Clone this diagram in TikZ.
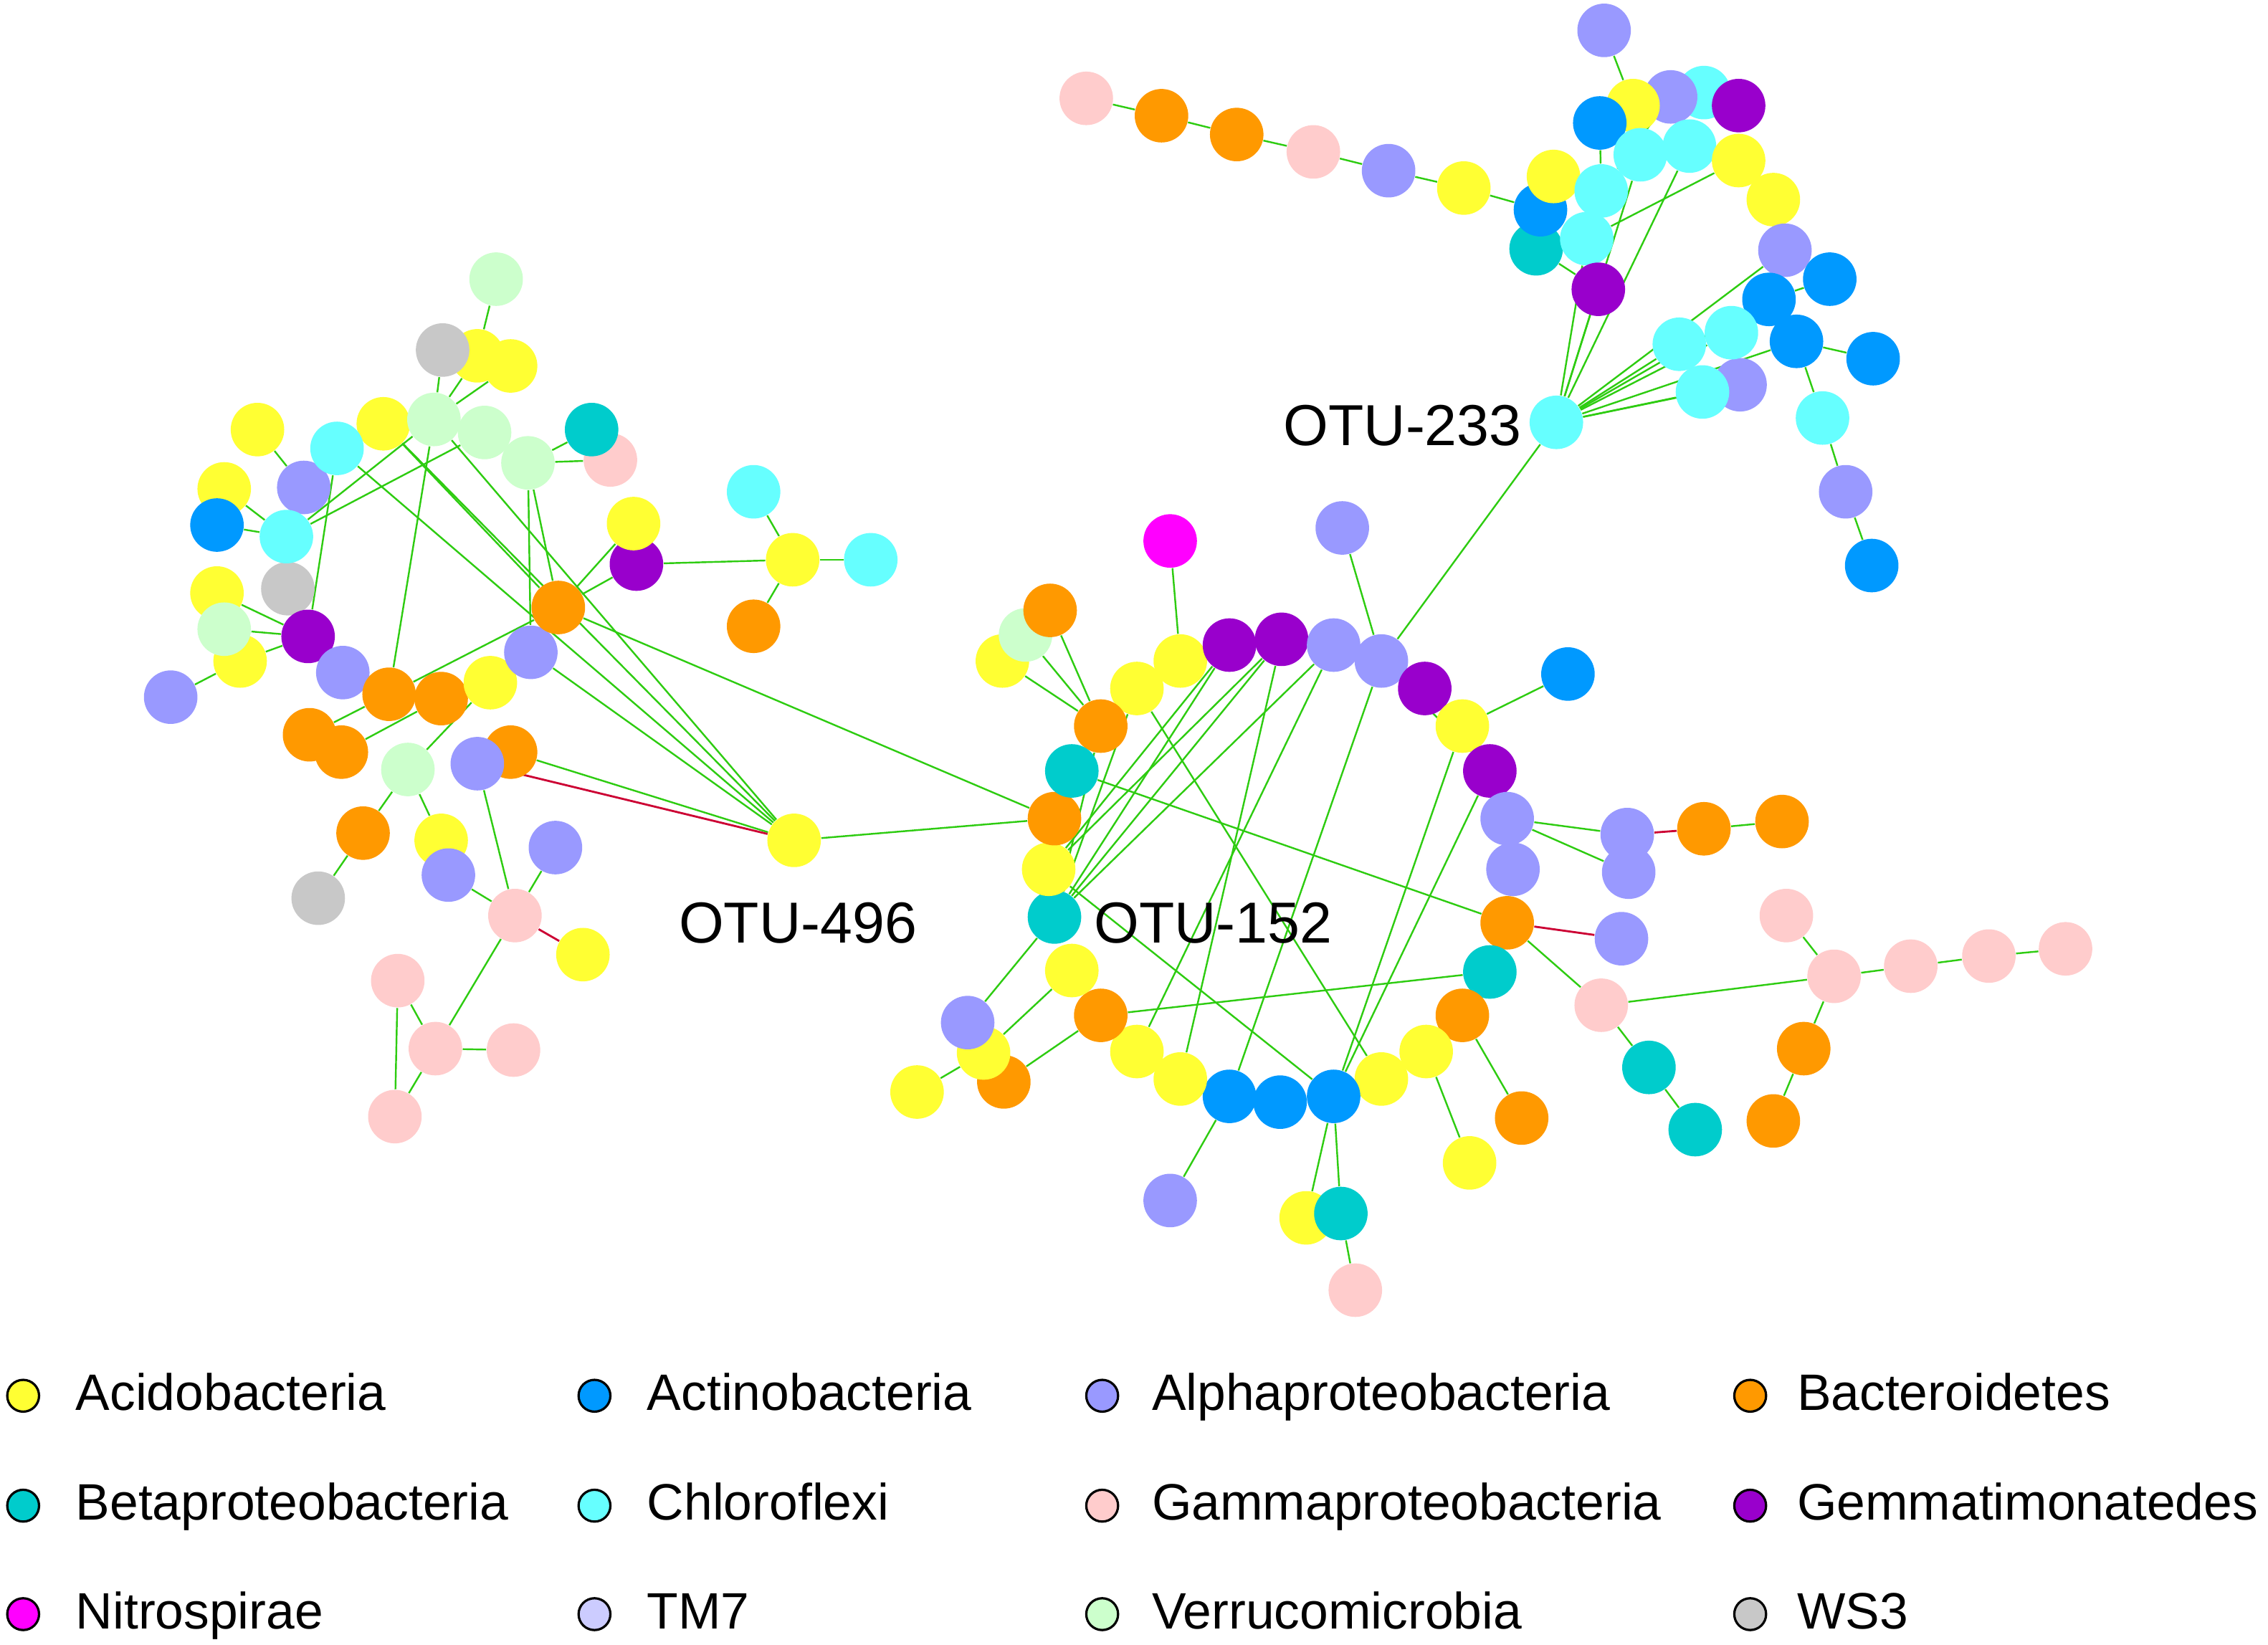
\documentclass[tikz,border=0pt]{standalone}
\usepackage{fontspec}
\setmainfont{Liberation Sans}
\pgfdeclarelayer{bg}
\pgfdeclarelayer{edges}
\pgfsetlayers{bg,edges,main}
\definecolor{acid}{HTML}{FFFF33}
\definecolor{actino}{HTML}{0099FF}
\definecolor{alpha}{HTML}{9999FF}
\definecolor{bact}{HTML}{FF9900}
\definecolor{beta}{HTML}{00CCCC}
\definecolor{chloro}{HTML}{66FFFF}
\definecolor{gamma}{HTML}{FFCCCC}
\definecolor{gemma}{HTML}{9900CC}
\definecolor{nitro}{HTML}{FF00FF}
\definecolor{tmseven}{HTML}{CCCCFF}
\definecolor{verru}{HTML}{CCFFCC}
\definecolor{wsthree}{HTML}{C8C8C8}
\definecolor{egreen}{HTML}{2ECC11}
\definecolor{ered}{HTML}{CC0033}
\tikzset{
  nd/.style={circle,fill=#1,draw=none,inner sep=0pt,minimum size=18.5pt},
  ge/.style={draw=egreen,line width=0.6pt},
  re/.style={draw=ered,line width=0.7pt},
  lbl/.style={font=\fontsize{20}{24}\selectfont,inner sep=0pt,anchor=base west},
  lg/.style={font=\fontsize{17.7}{22}\selectfont,inner sep=0pt,anchor=base west},
  mk/.style={circle,fill=#1,draw=black,line width=0.8pt,inner sep=0pt,minimum size=11pt},
}
\begin{document}
\begin{tikzpicture}[x=0.5pt,y=-0.5pt]
\begin{pgfonlayer}{bg}
\fill[white] (0,0) rectangle (1568,1137.3);
\end{pgfonlayer}
\path[use as bounding box] (0,0) rectangle (1568,1137.3);

% ---------- left cluster ----------
\node[nd=verru] (L1) at (343,193) {};
\node[nd=acid] (L3) at (330,246) {};
\node[nd=acid] (L4) at (353,253) {};
\node[nd=wsthree] (L2) at (306,242) {};
\node[nd=acid] (L5) at (178,297) {};
\node[nd=acid] (L6) at (265,293) {};
\node[nd=verru] (L8) at (335,299) {};
\node[nd=verru] (L7) at (300,290) {};
\node[nd=verru] (L12) at (365,320) {};
\node[nd=gamma] (L11) at (422,318) {};
\node[nd=beta] (L10) at (409,297) {};
\node[nd=alpha] (L13) at (210,337) {};
\node[nd=chloro] (L9) at (233,310) {};
\node[nd=acid] (L14) at (155,338) {};
\node[nd=actino] (L15) at (150,363) {};
\node[nd=wsthree] (L18) at (199,407) {};
\node[nd=chloro] (L16) at (198,371) {};
\node[nd=gemma] (L23) at (440,390) {};
\node[nd=acid] (L17) at (438,362) {};
\node[nd=acid] (L19) at (150,410) {};
\node[nd=acid] (L21) at (166,457) {};
\node[nd=verru] (L20) at (155,435) {};
\node[nd=gemma] (L22) at (213,440) {};
\node[nd=alpha] (L27) at (118,482) {};
\node[nd=alpha] (L26) at (237,465) {};
\node[nd=bact] (L28) at (269,480) {};
\node[nd=bact] (L29) at (305,483) {};
\node[nd=acid] (L30) at (339,472) {};
\node[nd=alpha] (L25) at (367,451) {};
\node[nd=bact] (L24) at (386,420) {};
\node[nd=bact] (L31) at (214,508) {};
\node[nd=bact] (L32) at (236,520) {};
\node[nd=verru] (L33) at (282,532) {};
\node[nd=bact] (L35) at (353,520) {};
\node[nd=alpha] (L34) at (330,528) {};
\node[nd=bact] (L36) at (251,576) {};
\node[nd=acid] (L37) at (305,581) {};
\node[nd=alpha] (L38) at (310,605) {};
\node[nd=alpha] (L39) at (384,586) {};
\node[nd=wsthree] (L40) at (220,621) {};
\node[nd=gamma] (L41) at (356,633) {};
\node[nd=acid] (L42) at (403,660) {};
\node[nd=gamma] (L43) at (275,678) {};
\node[nd=gamma] (L44) at (301,725) {};
\node[nd=gamma] (L45) at (355,726) {};
\node[nd=gamma] (L46) at (273,772) {};
\node[nd=chloro] (M1) at (521,340) {};
\node[nd=acid] (M2) at (548,387) {};
\node[nd=chloro] (M3) at (602,387) {};
\node[nd=bact] (M4) at (521,433) {};
\node[nd=acid] (O496) at (549,581) {};

% ---------- top right cluster ----------
\node[nd=gamma] (T1) at (751,68) {};
\node[nd=bact] (T2) at (803,80) {};
\node[nd=bact] (T3) at (855,93) {};
\node[nd=gamma] (T4) at (908,105) {};
\node[nd=alpha] (T5) at (960,118) {};
\node[nd=acid] (T6) at (1012,130) {};
\node[nd=alpha] (T7) at (1109,21) {};
\node[nd=chloro] (T10) at (1178,64) {};
\node[nd=alpha] (T9) at (1155,67) {};
\node[nd=acid] (T8) at (1129,73) {};
\node[nd=gemma] (T11) at (1202,73) {};
\node[nd=actino] (T12) at (1106,85) {};
\node[nd=chloro] (T14) at (1134,107) {};
\node[nd=chloro] (T15) at (1168,101) {};
\node[nd=acid] (T16) at (1202,111) {};
\node[nd=acid] (T17) at (1226,138) {};
\node[nd=beta] (T20) at (1062,172) {};
\node[nd=actino] (T13) at (1065,145) {};
\node[nd=acid] (T18) at (1074,122) {};
\node[nd=chloro] (T19) at (1107,132) {};
\node[nd=chloro] (T21) at (1097,165) {};
\node[nd=gemma] (T22) at (1105,200) {};
\node[nd=alpha] (T23) at (1234,173) {};
\node[nd=actino] (T24) at (1265,193) {};
\node[nd=actino] (T25) at (1223,207) {};
\node[nd=actino] (T28) at (1242,236) {};
\node[nd=actino] (T29) at (1295,248) {};
\node[nd=alpha] (T30) at (1203,266) {};
\node[nd=chloro] (T26) at (1197,230) {};
\node[nd=chloro] (T27) at (1161,238) {};
\node[nd=chloro] (T31) at (1177,271) {};
\node[nd=chloro] (O233) at (1076,292) {};
\node[nd=chloro] (T32) at (1260,289) {};
\node[nd=alpha] (T33) at (1276,340) {};
\node[nd=actino] (T34) at (1294,391) {};

% ---------- central ring ----------
\node[nd=acid] (D6) at (693,457) {};
\node[nd=verru] (D5) at (709,439) {};
\node[nd=bact] (D4) at (726,422) {};
\node[nd=nitro] (D1) at (809,374) {};
\node[nd=alpha] (D2) at (928,365) {};
\node[nd=actino] (D3) at (1084,466) {};
\node[nd=acid] (C28) at (786,476) {};
\node[nd=acid] (C27) at (816,457) {};
\node[nd=gemma] (C26) at (850,446) {};
\node[nd=gemma] (C25) at (886,442) {};
\node[nd=alpha] (C24) at (922,446) {};
\node[nd=alpha] (C23) at (955,457) {};
\node[nd=gemma] (C22) at (985,476) {};
\node[nd=acid] (C21) at (1011,502) {};
\node[nd=gemma] (C20) at (1030,533) {};
\node[nd=alpha] (C19) at (1042,566) {};
\node[nd=alpha] (C18) at (1046,601) {};
\node[nd=bact] (C17) at (1042,638) {};
\node[nd=beta] (C16) at (1030,672) {};
\node[nd=bact] (C15) at (1011,702) {};
\node[nd=acid] (C14) at (986,727) {};
\node[nd=acid] (C13) at (955,746) {};
\node[nd=actino] (C12) at (922,758) {};
\node[nd=actino] (C11) at (885,762) {};
\node[nd=actino] (C10) at (850,758) {};
\node[nd=acid] (C9) at (816,746) {};
\node[nd=acid] (C8) at (786,727) {};
\node[nd=bact] (C7) at (761,702) {};
\node[nd=acid] (C6) at (741,671) {};
\node[nd=beta] (C5) at (729,634) {};
\node[nd=acid] (C4) at (725,601) {};
\node[nd=bact] (C3) at (729,566) {};
\node[nd=bact] (C1) at (761,502) {};
\node[nd=beta] (C2) at (741,533) {};
\node[nd=bact] (D9) at (694,748) {};
\node[nd=acid] (D8) at (680,728) {};
\node[nd=alpha] (D7) at (669,707) {};
\node[nd=acid] (D10) at (634,755) {};
\node[nd=alpha] (D11) at (809,830) {};
\node[nd=acid] (D12) at (903,842) {};
\node[nd=beta] (D13) at (927,839) {};
\node[nd=gamma] (D14) at (937,892) {};
\node[nd=acid] (D15) at (1016,804) {};
\node[nd=bact] (D16) at (1052,773) {};
\node[nd=alpha] (E1) at (1125,577) {};
\node[nd=alpha] (E2) at (1126,603) {};
\node[nd=bact] (E3) at (1178,573) {};
\node[nd=bact] (E4) at (1232,568) {};
\node[nd=alpha] (E5) at (1121,649) {};
\node[nd=gamma] (E6) at (1107,695) {};
\node[nd=beta] (E7) at (1140,738) {};
\node[nd=beta] (E8) at (1172,781) {};
\node[nd=gamma] (E9) at (1235,633) {};
\node[nd=gamma] (E10) at (1268,675) {};
\node[nd=gamma] (E11) at (1321,668) {};
\node[nd=gamma] (E12) at (1375,661) {};
\node[nd=gamma] (E13) at (1428,656) {};
\node[nd=bact] (E14) at (1247,725) {};
\node[nd=bact] (E15) at (1226,775) {};

% ---------- labels ----------
\node[lbl] (t233) at (887,308) {OTU-233};
\node[lbl] (t496) at (469,652) {OTU-496};
\node[lbl] (t152) at (756,652) {OTU-152};

% ---------- edges ----------
\begin{pgfonlayer}{edges}
\foreach \a/\b in {L1/L3,L2/L7,L3/L7,L4/L7,L5/L13,L14/L16,L15/L16,L16/L7,L16/L8,
  L22/L9,L19/L22,L20/L22,L21/L22,L27/L21,L28/L7,L28/L24,L6/L24,L12/L10,L12/L11,
  L12/L25,L12/L24,L24/L23,L24/L17,L9/O496,L7/O496,L6/O496,L25/O496,L24/C3,
  L35/O496,L31/L28,L32/L29,L33/L30,L33/L36,L33/L37,L36/L40,L34/L41,L38/L41,
  L39/L41,L41/L44,L43/L44,L43/L46,L44/L45,L44/L46,L23/M2,M2/M1,M2/M3,M2/M4,
  O496/C3,
  T1/T2,T2/T3,T3/T4,T4/T5,T5/T6,T6/T13,T7/T8,T12/T19,T20/T22,T19/T9,T21/T16,
  O233/T22,O233/T21,O233/T14,O233/T15,O233/T27,O233/T31,O233/T30,O233/T28,
  O233/T26,O233/T25,O233/T23,T25/T24,T28/T29,T28/T32,T32/T33,T33/T34,O233/C23,
  D1/C27,D2/C23,D4/C1,D5/C1,D6/C1,C21/D3,C5/C1,C5/C28,C5/C26,C5/C25,C5/C24,
  C4/C25,C4/C26,C28/C13,C2/C17,C4/C12,C8/C24,C9/C25,C9/C11,C10/C23,C12/C21,
  C12/C20,C23/C20,C5/D7,C6/D8,C7/D9,D10/D8,C7/C16,C14/D15,C15/D16,C10/D11,
  C12/D12,C12/D13,D13/D14,C19/E1,C19/E2,E3/E4,C17/E6,E6/E10,E6/E7,E7/E8,
  E9/E10,E10/E11,E11/E12,E12/E13,E10/E14,E14/E15}
  \draw[ge] (\a) -- (\b);
\foreach \a/\b in {L34/O496,L41/L42,E1/E3,C17/E5}
  \draw[re] (\a) -- (\b);
\end{pgfonlayer}

% ---------- legend ----------
\foreach \c/\t/\x/\tx/\y [count=\i] in {
  acid/Acidobacteria/16/52/975, actino/Actinobacteria/411/447/975,
  alpha/Alphaproteobacteria/762/796/975, bact/Bacteroidetes/1210/1242/975,
  beta/Betaproteobacteria/16/52/1051, chloro/Chloroflexi/411/447/1051,
  gamma/Gammaproteobacteria/762/796/1051, gemma/Gemmatimonatedes/1210/1242/1051,
  nitro/Nitrospirae/16/52/1126, tmseven/TM7/411/447/1126,
  verru/Verrucomicrobia/762/796/1126, wsthree/WS3/1210/1242/1126}
{
  \node[mk=\c] (m\i) at (\x,\y-10) {};
  \node[lg] (g\i) at (\tx,\y) {\t};
}
\end{tikzpicture}
\end{document}
